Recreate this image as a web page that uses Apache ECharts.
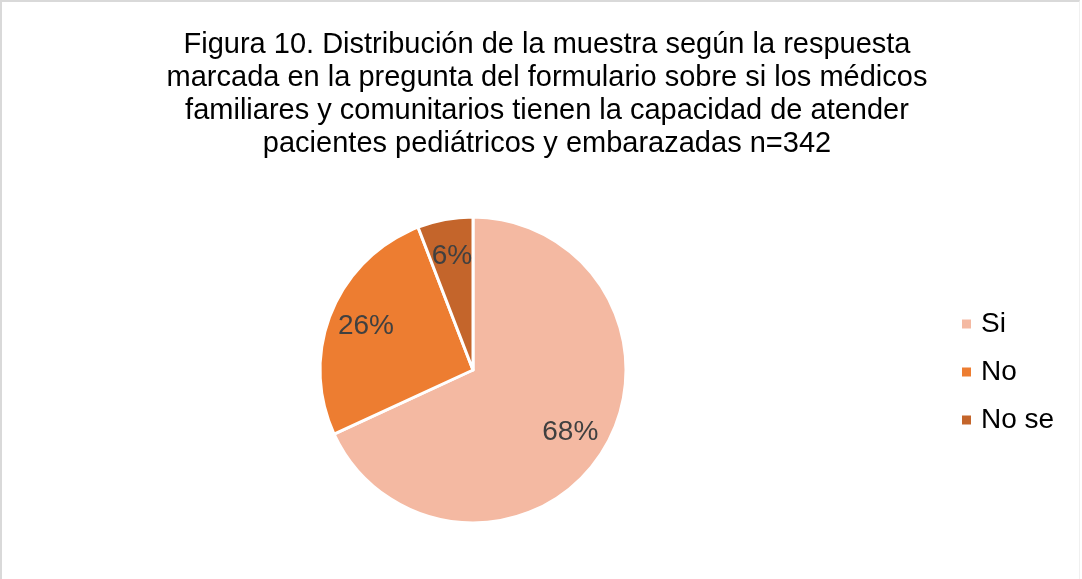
<!DOCTYPE html>
<html>
<head>
<meta charset="utf-8">
<script src="https://cdn.jsdelivr.net/npm/echarts@6/dist/echarts.min.js"></script>
<style>
  html, body { margin: 0; padding: 0; background: #fff; }
  #main {
    position: absolute; left: 0; top: 0;
    width: 1080px; height: 579px;
    border-top: 2px solid #d9d9d9;
    border-left: 2px solid #d9d9d9;
    border-right: 1px solid #f0f0f0;
    box-sizing: border-box;
  }
</style>
</head>
<body>
<div id="main"></div>
<script>
var categories = ["Si", "No", "No se"];
var counts = [233, 89, 20];
var colors = ["#F4B9A2", "#ED7D31", "#C4652B"];

var titleLines = [
  "Figura 10. Distribución de la muestra según la respuesta",
  "marcada en la pregunta del formulario sobre si los médicos",
  "familiares y comunitarios tienen la capacidad de atender",
  "pacientes pediátricos y embarazadas n=342"
];

var myChart = echarts.init(document.getElementById("main"));

var pieData = categories.map(function (name, i) {
  return { name: name, value: counts[i], itemStyle: { color: colors[i] } };
});

var option = {
  backgroundColor: "#fff",
  animation: false,
  title: {
    text: titleLines.join("\n"),
    left: 540,
    top: 21,
    textAlign: "center",
    textStyle: {
      fontFamily: "Liberation Sans",
      fontSize: 29,
      fontWeight: "normal",
      color: "#000",
      lineHeight: 33
    }
  },
  legend: {
    orient: "vertical",
    left: 953,
    top: 303,
    itemWidth: 11,
    itemHeight: 11,
    itemGap: 20,
    icon: "rect",
    data: categories,
    textStyle: {
      fontFamily: "Liberation Sans",
      fontSize: 28,
      color: "#000",
      padding: [0, 0, 0, 4]
    }
  },
  series: [
    {
      type: "pie",
      center: [471, 368],
      radius: [0, 153],
      startAngle: 90,
      clockwise: true,
      silent: true,
      itemStyle: { borderColor: "#fff", borderWidth: 3 },
      label: { show: false },
      labelLine: { show: false },
      data: pieData
    },
    {
      // overlay only for label placement
      type: "pie",
      center: [471, 368],
      radius: [72, 153],
      startAngle: 90,
      clockwise: true,
      silent: true,
      itemStyle: { color: "transparent", borderWidth: 0 },
      label: {
        show: true,
        position: "inside",
        formatter: function (p) { return Math.round(p.percent) + "%"; },
        fontFamily: "Liberation Sans",
        fontSize: 28,
        color: "#404040"
      },
      labelLine: { show: false },
      data: categories.map(function (name, i) {
        return { name: name, value: counts[i] };
      })
    }
  ]
};

myChart.setOption(option);
</script>
</body>
</html>
